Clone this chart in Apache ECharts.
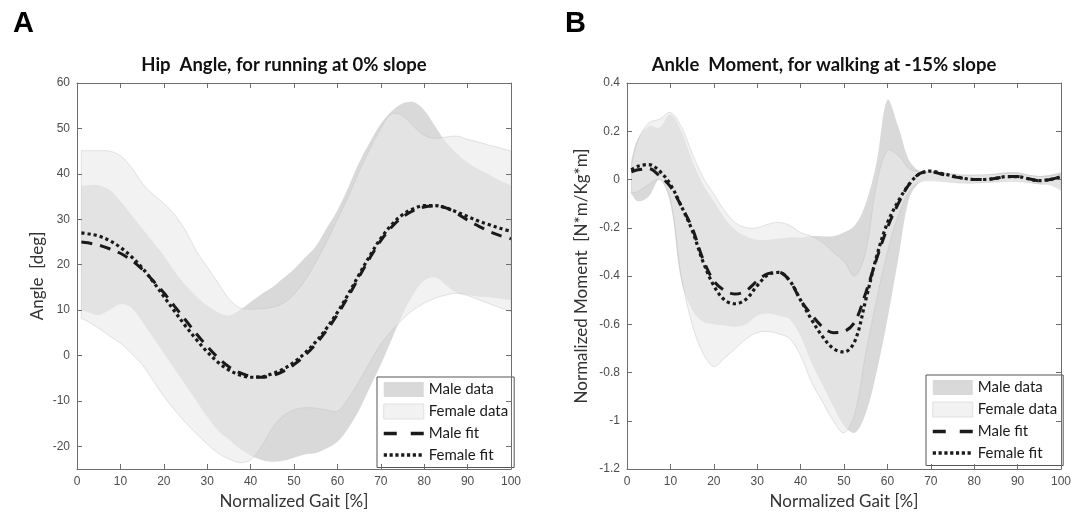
<!DOCTYPE html>
<html>
<head>
<meta charset="utf-8">
<script src="https://cdn.jsdelivr.net/npm/echarts@6/dist/echarts.min.js"></script>
<style>
html,body{margin:0;padding:0;background:#fff;}
#chart{width:1085px;height:516px;}
</style>
</head>
<body>
<div id="chart"></div>
<script>
// ---- shared gait axis (% of gait cycle) ----
const gaitX = [1, 2.5, 5, 7.5, 10, 12.5, 15, 17.5, 20, 22.5, 25, 27.5, 30, 32.5, 35, 37.5, 40, 42.5, 45, 47.5, 50,
  52.5, 55, 57.5, 60, 62.5, 65, 67.5, 70, 72.5, 75, 77.5, 80, 82.5, 85, 87.5, 90, 92.5, 95, 97.5, 100];

// ---- Panel A: Hip angle, running 0% slope (deg) ----
const hipMaleUpper = [37.3, 37.5, 37.5, 36.5, 34, 31, 28, 25, 22, 18.5, 15.5, 13, 11, 9.5, 8.8, 10, 11.8, 13.5, 15, 17, 19,
  21.5, 24, 28, 32, 37, 42.5, 47, 51, 53.8, 55.5, 55.8, 54, 50.5, 47, 44.5, 42.5, 41, 39.8, 38.5, 37.5];
const hipMaleLower = [10, 9.5, 8.9, 10, 11.3, 10.5, 7.5, 4, 0.5, -3, -6.5, -10, -13.5, -16.5, -18.5, -20.5, -22, -23, -23.4, -23.2, -22.5,
  -21.8, -21.5, -20.5, -19, -16, -12, -7, -2, 3.5, 9, 13.5, 16.5, 17.2, 15.5, 13.8, 13.3, 13, 12.8, 12.5, 12.2];
const hipFemaleUpper = [45.1, 45.1, 45.1, 45, 44, 41.5, 38, 35.5, 33.5, 31, 27.5, 23, 19.5, 16, 12.5, 10.5, 10.2, 10.3, 10.6, 11.5, 13.5,
  16.5, 20.5, 25, 30, 35, 40.5, 45.5, 50, 53.2, 52.8, 50.5, 48.5, 47.8, 48.1, 48.3, 47.6, 47, 46.3, 45.7, 45];
const hipFemaleLower = [8.2, 7.5, 6, 4.3, 2.7, 0.5, -2, -5.5, -9, -12, -14.8, -17.2, -19.5, -21.5, -22.8, -23.6, -23, -20, -16, -13.3, -12,
  -11.5, -11.6, -12, -12.3, -9.5, -5.7, -1.5, 2.5, 5.5, 8, 10, 11.5, 12.6, 13.3, 13.7, 13.2, 12.3, 11.4, 10.5, 9.7];
const hipMaleFit = [25, 24.8, 24.3, 23.5, 22.5, 21, 19, 16.5, 13.8, 10.8, 7.8, 4.8, 2, -0.5, -2.5, -3.8, -4.6, -4.8, -4.4, -3.5, -2,
  0, 2.5, 5.5, 9, 13, 17.3, 21.5, 25.3, 28.3, 30.5, 31.9, 32.7, 32.9, 32.5, 31.3, 29.8, 28.5, 27.3, 26.4, 25.7];
const hipFemaleFit = [27, 26.8, 26.3, 25.3, 23.8, 21.8, 19.3, 16.3, 13, 9.7, 6.5, 3.5, 0.8, -1.5, -3.2, -4.3, -4.8, -4.7, -4, -3, -1.5,
  0.5, 3, 6, 9.5, 13.5, 17.8, 22, 25.8, 28.8, 31, 32.3, 33, 33, 32.5, 31.6, 30.6, 29.6, 28.8, 28, 27.3];
const hipTicks = [-20, -10, 0, 10, 20, 30, 40, 50, 60];

// ---- Panel B: Ankle moment, walking -15% slope (N*m/Kg*m) ----
const ankleMaleUpper = [0.08, 0.17, 0.22, 0.215, 0.27, 0.2, 0.08, -0.02, -0.09, -0.16, -0.21, -0.235, -0.25, -0.25, -0.245, -0.24, -0.24, -0.235, -0.235, -0.235, -0.22,
  -0.19, -0.1, 0.07, 0.33, 0.22, 0.08, 0.035, 0.035, 0.03, 0.025, 0.02, 0.02, 0.02, 0.025, 0.03, 0.03, 0.02, 0.015, 0.02, 0.03];
const ankleMaleLower = [-0.06, -0.09, -0.07, 0, -0.1, -0.42, -0.54, -0.59, -0.6, -0.605, -0.61, -0.6, -0.565, -0.555, -0.565, -0.58, -0.65, -0.76, -0.85, -0.94, -1.02,
  -1.05, -0.97, -0.8, -0.58, -0.33, -0.08, -0.01, 0, -0.005, -0.01, -0.015, -0.015, -0.012, -0.01, -0.005, -0.005, -0.012, -0.02, -0.02, -0.04];
const ankleFemaleUpper = [0.06, 0.16, 0.235, 0.25, 0.278, 0.22, 0.11, 0.01, -0.06, -0.13, -0.18, -0.2, -0.2, -0.185, -0.178, -0.19, -0.22, -0.235, -0.26, -0.3, -0.34,
  -0.4, -0.3, -0.02, 0.12, 0.1, 0.045, 0.03, 0.03, 0.025, 0.02, 0.018, 0.018, 0.02, 0.022, 0.025, 0.025, 0.018, 0.012, 0.015, 0.022];
const ankleFemaleLower = [-0.055, -0.05, -0.02, 0, -0.08, -0.4, -0.6, -0.72, -0.775, -0.74, -0.7, -0.66, -0.635, -0.63, -0.64, -0.66, -0.73, -0.84, -0.92, -1.0, -1.05,
  -0.97, -0.72, -0.5, -0.3, -0.15, -0.05, -0.01, -0.005, -0.008, -0.012, -0.015, -0.015, -0.012, -0.01, -0.008, -0.008, -0.012, -0.018, -0.022, -0.045];
const ankleMaleFit = [0.032, 0.04, 0.045, 0.015, -0.03, -0.11, -0.2, -0.33, -0.42, -0.46, -0.475, -0.46, -0.42, -0.39, -0.385, -0.42, -0.5, -0.56, -0.61, -0.635, -0.63,
  -0.59, -0.47, -0.33, -0.2, -0.1, -0.02, 0.025, 0.032, 0.022, 0.012, 0.005, 0, 0, 0.005, 0.012, 0.012, 0.003, -0.005, 0, 0.012];
const ankleFemaleFit = [0.04, 0.055, 0.062, 0.035, -0.02, -0.11, -0.21, -0.34, -0.44, -0.5, -0.515, -0.495, -0.44, -0.395, -0.385, -0.42, -0.5, -0.58, -0.65, -0.7, -0.715,
  -0.67, -0.5, -0.32, -0.18, -0.09, -0.02, 0.025, 0.035, 0.025, 0.015, 0.005, 0, 0, 0.005, 0.012, 0.012, 0.003, -0.005, 0, 0.012];
const ankleTicks = [-1.2, -1, -0.8, -0.6, -0.4, -0.2, 0, 0.2, 0.4];

const gaitLabel = 'Normalized Gait [%]';
const legendNames = ['Male data', 'Female data', 'Male fit', 'Female fit'];

// ---- styling ----
const AX = '#6e6e6e';
const MALE_FILL = '#d9d9d9';
const FEMALE_FILL = 'rgba(234,234,234,0.6)';
const FIT = '#1a1a1a';
const SMOOTH = 0.35;
const DASH = [11, 8];
const DOT = [3.2, 3];

function pairs(ys) { return gaitX.map((x, i) => [x, ys[i]]); }

// shaded band between lo and hi, drawn as one smoothed polygon in data coordinates
function band(name, ai, lo, hi, fill, edge, legendColor) {
  return {
    name: name, type: 'custom', xAxisIndex: ai, yAxisIndex: ai, silent: true, z: 2,
    itemStyle: { color: legendColor },
    data: gaitX.map((x, i) => [x, lo[i], hi[i]]),
    encode: { x: 0, y: [1, 2] },
    renderItem: function (params, api) {
      if (params.dataIndex !== 0) return null;
      const up = gaitX.map((x, i) => api.coord([x, hi[i]]));
      const dn = gaitX.map((x, i) => api.coord([x, lo[i]])).reverse();
      const pts = [up[0]].concat(up, [up[up.length - 1], dn[0]], dn, [dn[dn.length - 1]]);
      return {
        type: 'polygon',
        shape: { points: pts, smooth: SMOOTH },
        style: { fill: fill, stroke: edge || 'none', lineWidth: 0.8 }
      };
    }
  };
}
function fit(name, ai, ys, dash, w) {
  return { name: name, type: 'line', xAxisIndex: ai, yAxisIndex: ai, data: pairs(ys), smooth: SMOOTH,
    symbol: 'none', lineStyle: { color: FIT, width: w, type: dash }, itemStyle: { color: FIT }, silent: true, z: 3 };
}

function xAxes(gi) {
  const base = { gridIndex: gi, type: 'value', min: 0, max: 100, interval: 10, z: 5,
    axisLine: { onZero: false, lineStyle: { color: AX, width: 1 } },
    axisTick: { inside: true, length: 5, lineStyle: { color: AX } },
    splitLine: { show: false } };
  return [
    Object.assign({}, base, { position: 'bottom', name: gaitLabel, nameLocation: 'middle', nameGap: 24,
      nameTextStyle: { fontFamily: 'Lato', fontSize: 17, color: '#333' },
      axisLabel: { color: '#4d4d4d', fontFamily: 'Liberation Sans', fontSize: 12, margin: 7 } }),
    Object.assign({}, base, { position: 'top', axisLabel: { show: false } })
  ];
}
function yAxes(gi, min, max, ticks, name, gap) {
  const base = { gridIndex: gi, type: 'value', min: min, max: max, z: 5,
    axisLine: { show: true, onZero: false, lineStyle: { color: AX, width: 1 } },
    axisTick: { show: true, inside: true, length: 5, customValues: ticks, lineStyle: { color: AX } },
    splitLine: { show: false } };
  return [
    Object.assign({}, base, { position: 'left', name: name, nameLocation: 'middle', nameGap: gap,
      nameTextStyle: { fontFamily: 'Lato', fontSize: 17, color: '#333' },
      axisLabel: { customValues: ticks, color: '#4d4d4d', fontFamily: 'Liberation Sans', fontSize: 12, margin: 7,
        formatter: v => String(+Number(v).toFixed(1)) } }),
    Object.assign({}, base, { position: 'right', axisLabel: { show: false } })
  ];
}
function legendAt(left, top) {
  const noMarker = { color: 'rgba(0,0,0,0)', borderColor: 'rgba(0,0,0,0)', borderWidth: 0 };
  return { left: left, top: top, orient: 'vertical', itemWidth: 40, itemHeight: 15, itemGap: 6.5,
    padding: [5, 6, 5, 5], borderColor: '#555', borderWidth: 1, backgroundColor: '#fff',
    textStyle: { fontFamily: 'Lato', fontSize: 15, color: '#1a1a1a' }, selectedMode: false,
    data: [
      { name: legendNames[0], icon: 'rect', itemStyle: { color: '#d9d9d9', borderWidth: 0 } },
      { name: legendNames[1], icon: 'rect', itemStyle: { color: '#f2f2f2', borderColor: '#e0e0e0', borderWidth: 1 } },
      { name: legendNames[2], itemStyle: noMarker, lineStyle: { type: [13, 14], width: 3.5 } },
      { name: legendNames[3], itemStyle: noMarker, lineStyle: { type: [3.2, 2.6], width: 3.5 } }
    ] };
}

const chart = echarts.init(document.getElementById('chart'));
chart.setOption({
  backgroundColor: '#fff',
  animation: false,
  grid: [
    { left: 77, top: 83, width: 434, height: 386 },
    { left: 627, top: 83, width: 434, height: 386 }
  ],
  xAxis: [].concat(xAxes(0), xAxes(1)),
  yAxis: [].concat(yAxes(0, -25, 60, hipTicks, 'Angle  [deg]', 31), yAxes(1, -1.2, 0.4, ankleTicks, 'Normalized Moment  [N*m/Kg*m]', 37)),
  legend: [legendAt(377, 377), legendAt(926, 375)],
  graphic: [
    { type: 'text', x: 13, y: 24, style: { text: 'A', font: 'bold 29px "Liberation Sans"', fill: '#000', textAlign: 'left', textVerticalAlign: 'middle' } },
    { type: 'text', x: 565, y: 24, style: { text: 'B', font: 'bold 29px "Liberation Sans"', fill: '#000', textAlign: 'left', textVerticalAlign: 'middle' } },
    { type: 'text', x: 284, y: 65, style: { text: 'Hip  Angle, for running at 0% slope', font: 'bold 18.5px Lato', fill: '#111', textAlign: 'center', textVerticalAlign: 'middle' } },
    { type: 'text', x: 824, y: 65, style: { text: 'Ankle  Moment, for walking at -15% slope', font: 'bold 18.5px Lato', fill: '#111', textAlign: 'center', textVerticalAlign: 'middle' } }
  ],
  series: [
    band('Male data', 0, hipMaleLower, hipMaleUpper, MALE_FILL, null, '#d9d9d9'),
    band('Female data', 0, hipFemaleLower, hipFemaleUpper, FEMALE_FILL, 'rgba(190,190,190,0.5)', '#f2f2f2'),
    fit('Male fit', 0, hipMaleFit, DASH, 3),
    fit('Female fit', 0, hipFemaleFit, DOT, 3.2),
    band('Male data', 2, ankleMaleLower, ankleMaleUpper, MALE_FILL, null, '#d9d9d9'),
    band('Female data', 2, ankleFemaleLower, ankleFemaleUpper, FEMALE_FILL, 'rgba(190,190,190,0.5)', '#f2f2f2'),
    fit('Male fit', 2, ankleMaleFit, DASH, 3),
    fit('Female fit', 2, ankleFemaleFit, DOT, 3.2)
  ]
});
</script>
</body>
</html>
